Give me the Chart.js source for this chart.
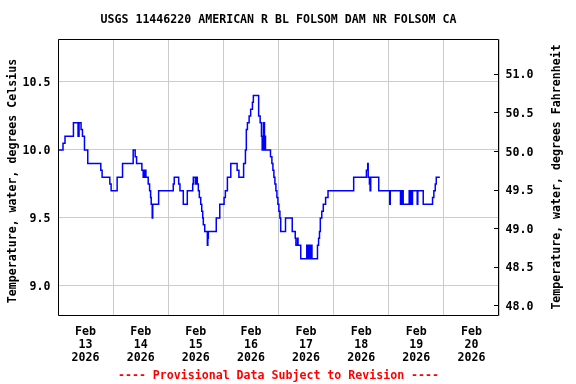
<!DOCTYPE html>
<html>
<head>
<meta charset="utf-8">
<script src="https://cdn.jsdelivr.net/npm/chart.js@4"></script>
<style>
  body { margin: 0; background: #fff; }
</style>
</head>
<body>
<canvas id="chart" width="576" height="384"></canvas>
<script>
// Water temperature, 15-min series.
// hours since Feb 13 2026 00:00, value in degrees Celsius
const hours = [
  0, 2.18, 3.05, 6.72, 8.73, 9.16, 10.04, 10.65, 11.52, 12.96,
  18.63, 19.2, 22.56, 23.13, 25.75, 28.1, 32.73, 33.6, 34.21, 36.52,
  37.09, 37.4, 37.7, 37.96, 38.27, 39.27, 39.88, 40.32, 40.58, 41.02,
  41.24, 43.81, 50.18, 50.62, 52.54, 53.1, 54.55, 56.29, 58.65, 58.91,
  59.78, 60.0, 60.22, 60.44, 60.65, 61.09, 61.53, 62.14, 62.58, 63.01,
  63.27, 63.88, 65.02, 65.24, 65.45, 68.9, 70.43, 72.31, 72.87, 73.75,
  75.23, 77.98, 78.76, 80.81, 81.6, 81.99, 82.47, 83.21, 83.87, 84.65,
  85.05, 87.36, 88.01, 88.58, 88.89, 89.45, 89.89, 90.1, 90.33, 92.51,
  93.12, 93.56, 93.99, 94.43, 94.87, 95.3, 95.74, 96.17, 96.61, 96.96,
  99.05, 101.98, 103.29, 103.59, 104.29, 104.5, 105.69, 108.31, 108.74, 109.18,
  109.61, 110.14, 110.57, 112.97, 113.45, 113.85, 114.2, 114.85, 115.5, 116.51,
  117.56, 128.73, 134.27, 134.84, 135.05, 135.58, 135.88, 136.15, 139.64, 144.44,
  144.66, 149.11, 149.41, 149.67, 149.98, 150.28, 152.9, 153.47, 153.69, 154.04,
  154.34, 156.39, 156.65, 159.01, 163.07, 163.64, 164.25, 164.68, 166.25
];
const tempC = [
  10.0, 10.05, 10.1, 10.2, 10.1, 10.2, 10.15, 10.1, 10.0, 9.9,
  9.85, 9.8, 9.75, 9.7, 9.8, 9.9, 10.0, 9.95, 9.9, 9.85,
  9.8, 9.85, 9.8, 9.85, 9.8, 9.75, 9.7, 9.65, 9.6, 9.5,
  9.6, 9.7, 9.75, 9.8, 9.75, 9.7, 9.6, 9.7, 9.75, 9.8,
  9.75, 9.8, 9.75, 9.8, 9.75, 9.7, 9.65, 9.6, 9.55, 9.5,
  9.45, 9.4, 9.3, 9.35, 9.4, 9.5, 9.6, 9.65, 9.7, 9.8,
  9.9, 9.85, 9.8, 9.9, 10.0, 10.15, 10.2, 10.25, 10.3, 10.35,
  10.4, 10.25, 10.2, 10.1, 10.0, 10.2, 10.0, 10.1, 10.0, 9.95,
  9.9, 9.85, 9.8, 9.75, 9.7, 9.65, 9.6, 9.55, 9.5, 9.4,
  9.5, 9.4, 9.35, 9.3, 9.35, 9.3, 9.2, 9.3, 9.2, 9.3,
  9.2, 9.3, 9.2, 9.3, 9.35, 9.4, 9.5, 9.55, 9.6, 9.65,
  9.7, 9.8, 9.85, 9.9, 9.8, 9.75, 9.7, 9.8, 9.7, 9.6,
  9.7, 9.6, 9.7, 9.6, 9.7, 9.6, 9.7, 9.6, 9.7, 9.6,
  9.7, 9.6, 9.7, 9.6, 9.65, 9.7, 9.75, 9.8, 9.8
];

const monthLabel = 'Feb';
const yearLabel = '2026';
const dayLabels = ['13', '14', '15', '16', '17', '18', '19', '20'];
const celsiusTicks = [9.0, 9.5, 10.0, 10.5];
const fahrenheitTicks = [48.0, 48.5, 49.0, 49.5, 50.0, 50.5, 51.0];

const titleText = 'USGS 11446220 AMERICAN R BL FOLSOM DAM NR FOLSOM CA';
const footerText = '---- Provisional Data Subject to Revision ----';
const leftTitle = 'Temperature, water, degrees Celsius';
const rightTitle = 'Temperature, water, degrees Fahrenheit';

// axis ranges as drawn (the Fahrenheit side is scaled on its own)
const cMin = 8.779, cMax = 10.816;
const fMin = 47.863, fMax = 51.451;

const mono = { family: '"DejaVu Sans Mono", monospace', size: 11.6, weight: 'bold', lineHeight: 1.12 };
const monoCss = 'bold 11.6px "DejaVu Sans Mono", monospace';

function sideTitle(ctx, text, x, y) {
  ctx.save();
  ctx.translate(x, y);
  ctx.rotate(-Math.PI / 2);
  ctx.font = monoCss;
  ctx.fillStyle = '#000';
  ctx.textAlign = 'center';
  ctx.textBaseline = 'middle';
  ctx.fillText(text, 0, 0);
  ctx.restore();
}

// box round the plot, inward ticks on the Fahrenheit side, both side titles
const framePlugin = {
  id: 'frame',
  afterDraw(chart) {
    const { ctx, chartArea: a, scales } = chart;
    ctx.save();
    ctx.strokeStyle = '#000';
    ctx.lineWidth = 1;
    ctx.beginPath();
    ctx.rect(a.left + 0.5, a.top + 0.5, a.right - a.left - 1, a.bottom - a.top - 1);
    scales.y1.ticks.forEach((t) => {
      const y = Math.round(scales.y1.getPixelForValue(t.value)) + 0.5;
      ctx.moveTo(a.right - 5, y);
      ctx.lineTo(a.right, y);
    });
    ctx.stroke();
    ctx.restore();
    sideTitle(ctx, leftTitle, 13, 181);
    sideTitle(ctx, rightTitle, 557, 177);
  }
};

const points = hours.map((h, i) => ({ x: h, y: tempC[i] }));

new Chart(document.getElementById('chart'), {
  type: 'line',
  data: {
    datasets: [{
      data: points,
      borderColor: '#0000ff',
      borderWidth: 1.5,
      pointRadius: 0,
      stepped: true,
      fill: false,
      yAxisID: 'y'
    }]
  },
  options: {
    responsive: false,
    animation: false,
    layout: { padding: 0 },
    plugins: {
      legend: { display: false },
      tooltip: { enabled: false },
      title: {
        display: true,
        text: titleText,
        color: '#000',
        font: mono,
        fullSize: false,
        padding: { top: 13.5, bottom: 12.5 }
      },
      subtitle: {
        display: true,
        position: 'bottom',
        text: footerText,
        color: '#ff0000',
        font: mono,
        fullSize: false,
        padding: { top: 3, bottom: 1.5 }
      }
    },
    scales: {
      x: {
        type: 'linear',
        min: 0,
        max: 192,
        afterBuildTicks: (scale) => {
          const t = [];
          for (let h = 0; h <= 192; h += 12) t.push({ value: h });
          scale.ticks = t;
        },
        afterFit: (scale) => { scale.height = 50.5; },
        border: { display: false },
        grid: {
          drawTicks: false,
          color: (c) => (c.tick && c.tick.value % 24 === 0 ? '#cccccc' : 'rgba(0,0,0,0)')
        },
        ticks: {
          autoSkip: false,
          maxRotation: 0,
          padding: 9,
          color: '#000',
          font: mono,
          callback: (v) => (v % 24 === 12 ? [monthLabel, dayLabels[Math.floor(v / 24)], yearLabel] : '')
        }
      },
      y: {
        position: 'left',
        min: cMin,
        max: cMax,
        afterBuildTicks: (scale) => { scale.ticks = celsiusTicks.map((v) => ({ value: v })); },
        afterFit: (scale) => { scale.width = 58; },
        border: { display: false },
        grid: { drawTicks: false, color: '#cccccc' },
        ticks: { padding: 7.5, labelOffset: 1.5, color: '#000', font: mono, callback: (v) => v.toFixed(1) }
      },
      y1: {
        position: 'right',
        min: fMin,
        max: fMax,
        afterBuildTicks: (scale) => { scale.ticks = fahrenheitTicks.map((v) => ({ value: v })); },
        afterFit: (scale) => { scale.width = 77; },
        border: { display: false },
        grid: { drawTicks: false, drawOnChartArea: false },
        ticks: { padding: 6.5, labelOffset: 1.5, color: '#000', font: mono, callback: (v) => v.toFixed(1) }
      }
    }
  },
  plugins: [framePlugin]
});
</script>
</body>
</html>
